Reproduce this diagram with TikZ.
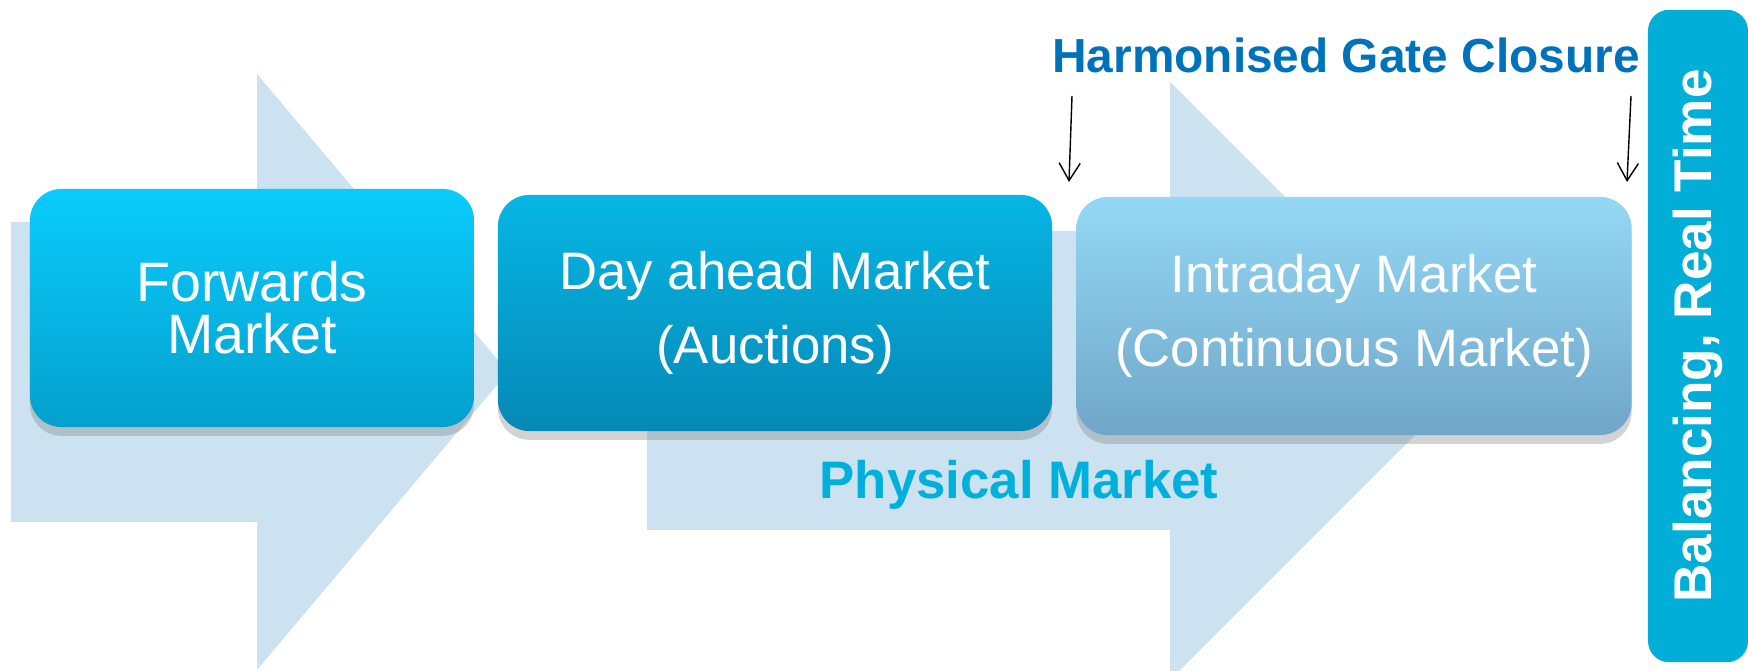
\documentclass[tikz,border=0pt]{standalone}
\usepackage{fontspec}
\setmainfont{Liberation Sans}
\usetikzlibrary{arrows.meta,shadows}

\definecolor{arrowbg}{RGB}{204,226,240}
\definecolor{fwdtop}{RGB}{10,204,252}
\definecolor{fwdbot}{RGB}{4,160,205}
\definecolor{dahtop}{RGB}{6,182,228}
\definecolor{dahbot}{RGB}{6,136,182}
\definecolor{idtop}{RGB}{148,216,246}
\definecolor{idbot}{RGB}{112,166,200}
\definecolor{balblue}{RGB}{0,174,216}
\definecolor{gateblue}{RGB}{0,114,188}
\definecolor{physblue}{RGB}{0,176,220}

\begin{document}
\begin{tikzpicture}[x=0.01cm,y=-0.01cm,
        mkt/.style={rounded corners=9pt,inner sep=0pt,align=center,text=white,
            drop shadow={shadow xshift=0pt,shadow yshift=-2.5pt,opacity=0.35}},
        gate/.style={->,thin,>={Straight Barb[length=5pt,width=6pt]}}]
            \useasboundingbox (0,0) rectangle (1748,671);

            % two wide arrows behind the boxes
            \fill[arrowbg] (11,222) -- (257,222) -- (257,74) -- (508,372) -- (257,670) -- (257,522) -- (11,522) -- cycle;
            \fill[arrowbg] (647,231) -- (1170,231) -- (1170,82) -- (1469,381) -- (1170,680) -- (1170,530) -- (647,530) -- cycle;

            \coordinate (GA) at (1072,96);
            \coordinate (GAe) at (1069,182);
            \coordinate (GB) at (1631,96);
            \coordinate (GBe) at (1627,182);

            \node[mkt,top color=fwdtop,bottom color=fwdbot,minimum width=4.44cm,minimum height=2.38cm,
                font=\fontsize{15.8pt}{14.8pt}\selectfont] (FWD) at (252,308) { Forwards\\Market };
            \node[mkt,top color=dahtop,bottom color=dahbot,minimum width=5.54cm,minimum height=2.36cm,
                font=\fontsize{15pt}{21pt}\selectfont] (DAM) at (775,313) { Day ahead Market\\(Auctions) };
            \node[mkt,top color=idtop,bottom color=idbot,minimum width=5.55cm,minimum height=2.38cm,
                font=\fontsize{15pt}{21pt}\selectfont] (IDM) at (1354,316) { Intraday Market\\(Continuous Market) };

            \node[fill=balblue,rounded corners=6pt,rotate=90,minimum width=6.52cm,minimum height=1cm,inner sep=0pt,
                text=white,font=\bfseries\fontsize{15.1pt}{18pt}\selectfont] (BAL) at (1698,336) { Balancing, Real Time };

            \node[anchor=base,text=gateblue,font=\bfseries\fontsize{13.6pt}{16pt}\selectfont] (HGC) at (1346,73) { Harmonised Gate Closure };
            \node[anchor=base,text=physblue,font=\bfseries\fontsize{15pt}{18pt}\selectfont] (PHY) at (1019,499) { Physical Market };

            \draw[gate] (GA) -- (GAe);
            \draw[gate] (GB) -- (GBe);

        \end{tikzpicture}
\end{document}
